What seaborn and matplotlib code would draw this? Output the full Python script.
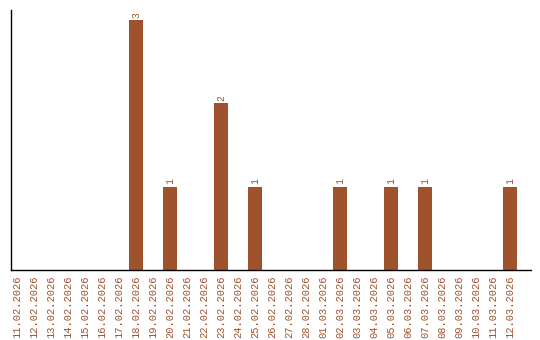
import matplotlib
matplotlib.use("Agg")
import matplotlib.pyplot as plt
import seaborn as sns
import pandas as pd

dates = ["11.02.2026", "12.02.2026", "13.02.2026", "14.02.2026", "15.02.2026",
         "16.02.2026", "17.02.2026", "18.02.2026", "19.02.2026", "20.02.2026",
         "21.02.2026", "22.02.2026", "23.02.2026", "24.02.2026", "25.02.2026",
         "26.02.2026", "27.02.2026", "28.02.2026", "01.03.2026", "02.03.2026",
         "03.03.2026", "04.03.2026", "05.03.2026", "06.03.2026", "07.03.2026",
         "08.03.2026", "09.03.2026", "10.03.2026", "11.03.2026", "12.03.2026"]
counts = [0, 0, 0, 0, 0, 0, 0, 3, 0, 1,
          0, 0, 2, 0, 1, 0, 0, 0, 0, 1,
          0, 0, 1, 0, 1, 0, 0, 0, 0, 1]

color = "#A0522D"
df = pd.DataFrame({"date": dates, "count": counts})

sns.set_style("white")
plt.rcParams["font.family"] = ["Liberation Mono", "DejaVu Sans Mono"]

fig = plt.figure(figsize=(5.4, 3.4), dpi=100)
left_px, right_px = 10.5, 531
ax = fig.add_axes([left_px/540, 1 - 270/340, (right_px - left_px)/540, (270 - 10)/340])
sns.barplot(data=df, x="date", y="count", color=color, width=0.82,
            saturation=1, linewidth=0, edgecolor=color, ax=ax)

ax.set_ylim(0, 3 * 260 / 250)
ax.set_xlim(-0.38, 30.24)
ax.set_xlabel("")
ax.set_ylabel("")
ax.set_yticks([])
ax.tick_params(axis="x", length=0, pad=4)
for lbl in ax.get_xticklabels():
    lbl.set_rotation(90)
    lbl.set_fontsize(7.5)
    lbl.set_color(color)

for i, v in enumerate(counts):
    if v > 0:
        ax.text(i, v + 0.03, str(v), rotation=90, ha="center", va="bottom",
                fontsize=7, color=color)

for s in ["top", "right"]:
    ax.spines[s].set_visible(False)
for s in ["left", "bottom"]:
    ax.spines[s].set_color("black")
    ax.spines[s].set_linewidth(1)

fig.savefig("out.png", dpi=100)
